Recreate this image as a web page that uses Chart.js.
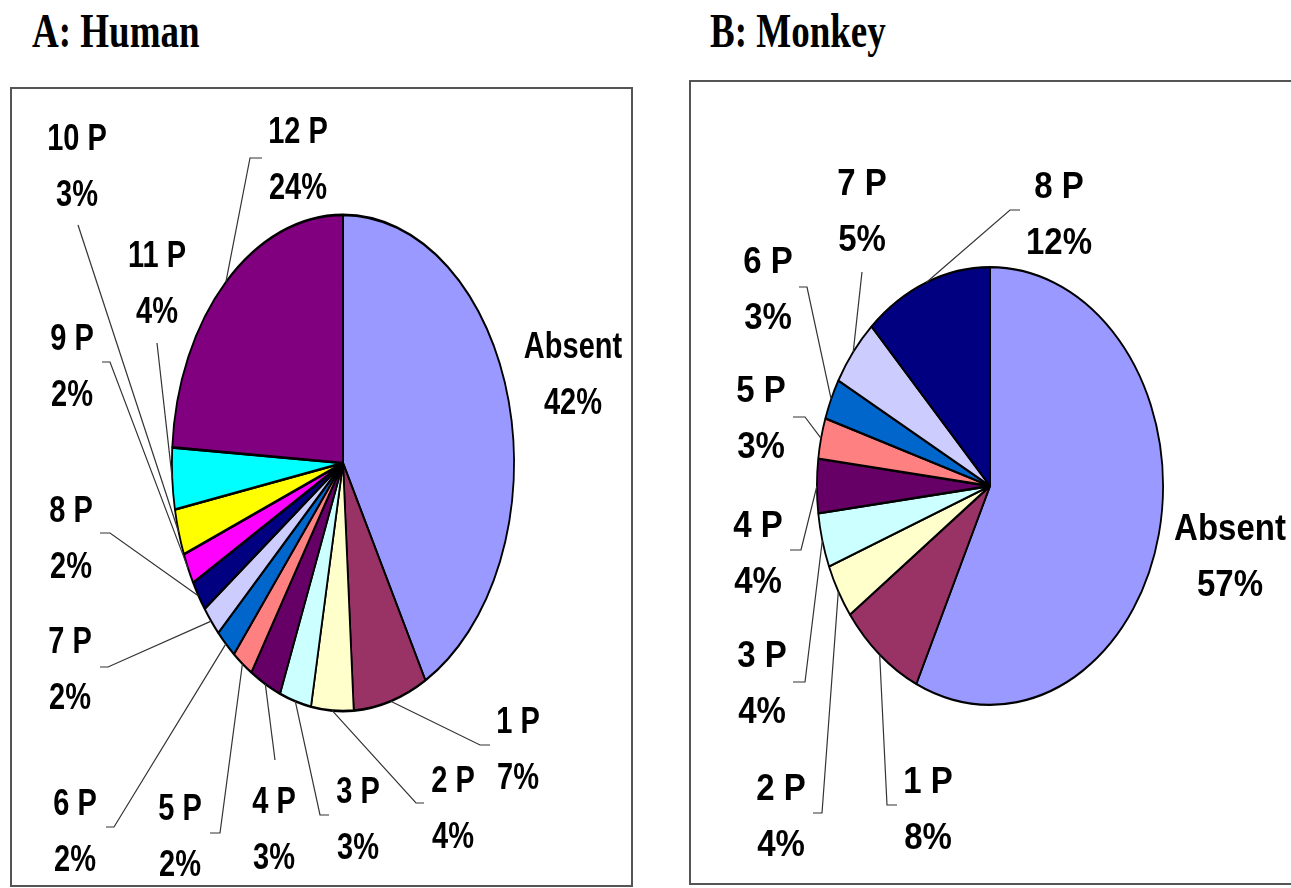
<!DOCTYPE html>
<html lang="en">
<head>
    <meta charset="UTF-8">
    <title>Human vs Monkey</title>
    <script src="https://cdn.jsdelivr.net/npm/chart.js"></script>
    <style>
        body {
            margin: 0;
            width: 1291px;
            height: 888px;
            overflow: hidden;
            background: white;
            position: relative;
        }
        .title {
            position: absolute;
            top: 6px;
            font-family: "Liberation Serif", "Times New Roman", serif;
            font-weight: bold;
            font-size: 37px;
            line-height: 37px;
            transform: scaleY(1.33);
            transform-origin: 0 0;
            white-space: nowrap;
        }
        .box {
            position: absolute;
            border: 2px solid #555;
            box-sizing: border-box;
        }
        canvas {
            position: absolute;
            left: 0;
            top: 0;
        }
    </style>
</head>
<body>
    <div class="title" style="left:32px">A: Human</div>
    <div class="title" style="left:710px">B: Monkey</div>
    <div class="box" style="left:10px; top:87px; width:623px; height:800px"></div>
    <div class="box" style="left:689px; top:80px; width:700px; height:805px"></div>
    <canvas id="humanChart" width="1291" height="888"></canvas>
    <canvas id="monkeyChart" width="1291" height="888"></canvas>
    <script>
        // data (percent of samples)
        const humanLabels = ['Absent', '1 P', '2 P', '3 P', '4 P', '5 P', '6 P', '7 P', '8 P', '9 P', '10 P', '11 P', '12 P'];
        const humanValues = [42, 7, 4, 3, 3, 2, 2, 2, 2, 2, 3, 4, 24];

        const monkeyLabels = ['Absent', '1 P', '2 P', '3 P', '4 P', '5 P', '6 P', '7 P', '8 P'];
        const monkeyValues = [57, 8, 4, 4, 4, 3, 3, 5, 12];

        // excel style palette
        const humanColors = ['#9999FF', '#993366', '#FFFFCC', '#CCFFFF', '#660066', '#FF8080', '#0066CC',
                             '#CCCCFF', '#000080', '#FF00FF', '#FFFF00', '#00FFFF', '#800080'];
        const monkeyColors = ['#9999FF', '#993366', '#FFFFCC', '#CCFFFF', '#660066', '#FF8080', '#0066CC',
                              '#CCCCFF', '#000080'];

        // label placement, offsets from the pie centre: text [x, first baseline], leader elbow, tick end x
        const humanLayout = [
            { text: [230, -105] },
            { text: [175, 270], elbow: [137, 282], tick: 147 },
            { text: [110, 329], elbow: [73, 340], tick: 81 },
            { text: [15, 340], elbow: [-23, 352], tick: -14 },
            { text: [-69, 350], elbow: [-68, 297] },
            { text: [-163, 357], elbow: [-123, 370], tick: -133 },
            { text: [-268, 352], elbow: [-229, 364], tick: -237 },
            { text: [-273, 190], elbow: [-235, 204], tick: -243 },
            { text: [-272, 59], elbow: [-233, 70], tick: -243 },
            { text: [-271, -113], elbow: [-233, -101], tick: -241 },
            { text: [-266, -313], elbow: [-265, -238] },
            { text: [-186, -196], elbow: [-186, -120] },
            { text: [-45, -320], elbow: [-93, -305], tick: -81 }
        ];
        const monkeyLayout = [
            { text: [240, 54] },
            { text: [-62, 307], elbow: [-103, 319], tick: -93 },
            { text: [-209, 314], elbow: [-168, 327], tick: -177 },
            { text: [-228, 181], elbow: [-185, 196], tick: -197 },
            { text: [-232, 51], elbow: [-189, 64], tick: -200 },
            { text: [-229, -84], elbow: [-185, -69], tick: -197 },
            { text: [-222, -213], elbow: [-183, -199], tick: -191 },
            { text: [-128, -291], elbow: [-128, -214] },
            { text: [69, -288], elbow: [20, -276], tick: 30 }
        ];

        function stretchPlugin(sy) {
            return {
                id: 'stretch',
                beforeDatasetsDraw(chart) {
                    const arc = chart.getDatasetMeta(0).data[0];
                    const ctx = chart.ctx;
                    ctx.save();
                    ctx.translate(arc.x, arc.y);
                    ctx.scale(1, sy);
                    ctx.translate(-arc.x, -arc.y);
                },
                afterDatasetsDraw(chart) {
                    chart.ctx.restore();
                }
            };
        }

        function labelPlugin(sy, layout, fontSize, textScale, gap) {
            return {
                id: 'outerLabels',
                afterDraw(chart) {
                    const ctx = chart.ctx;
                    const meta = chart.getDatasetMeta(0);
                    const values = chart.data.datasets[0].data;
                    meta.data.forEach((arc, i) => {
                        const cx = arc.x, cy = arc.y, r = arc.outerRadius;
                        const mid = (arc.startAngle + arc.endAngle) / 2;
                        const lay = layout[i];
                        if (lay.elbow) {
                            ctx.save();
                            ctx.strokeStyle = '#333';
                            ctx.lineWidth = 1.2;
                            ctx.beginPath();
                            ctx.moveTo(cx + Math.cos(mid) * r, cy + Math.sin(mid) * r * sy);
                            ctx.lineTo(cx + lay.elbow[0], cy + lay.elbow[1]);
                            if (lay.tick !== undefined) ctx.lineTo(cx + lay.tick, cy + lay.elbow[1]);
                            ctx.stroke();
                            ctx.restore();
                        }
                        const lines = [chart.data.labels[i], values[i] + '%'];
                        lines.forEach((txt, k) => {
                            ctx.save();
                            ctx.translate(cx + lay.text[0], cy + lay.text[1] + k * gap);
                            ctx.scale(1, textScale);
                            ctx.font = 'bold ' + fontSize + 'px "Liberation Sans", Arial, sans-serif';
                            ctx.fillStyle = '#000';
                            ctx.textAlign = 'center';
                            ctx.textBaseline = 'alphabetic';
                            ctx.fillText(txt, 0, 0);
                            ctx.restore();
                        });
                    });
                }
            };
        }

        function makePie(id, labels, values, colors, padding, sy, layout, fontSize, textScale) {
            return new Chart(document.getElementById(id), {
                type: 'pie',
                data: {
                    labels: labels,
                    datasets: [{
                        data: values,
                        backgroundColor: colors,
                        borderColor: '#000',
                        borderWidth: 1.8,
                        clip: false
                    }]
                },
                options: {
                    responsive: false,
                    animation: false,
                    events: [],
                    layout: { padding: padding },
                    plugins: {
                        legend: { display: false },
                        tooltip: { enabled: false }
                    }
                },
                plugins: [stretchPlugin(sy), labelPlugin(sy, layout, fontSize, textScale, 56)]
            });
        }

        // human pie: centre (343, 463), radius 172, vertical stretch 1.45
        makePie('humanChart', humanLabels, humanValues, humanColors,
            { left: 171, right: 776, top: 291, bottom: 253 }, 1.45, humanLayout, 29, 1.25);

        // monkey pie: centre (990, 486), radius 174, vertical stretch 1.264
        makePie('monkeyChart', monkeyLabels, monkeyValues, monkeyColors,
            { left: 816, right: 127, top: 312, bottom: 228 }, 1.264, monkeyLayout, 33, 1.12);
    </script>
</body>
</html>
